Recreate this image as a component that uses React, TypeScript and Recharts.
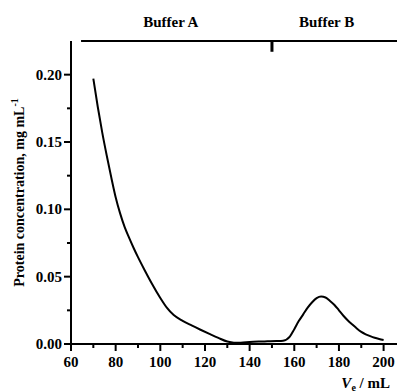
import { LineChart, Line, XAxis, YAxis, ReferenceLine, ReferenceDot } from "recharts";

// elution volume (mL) and protein concentration (mg/mL)
const volume = [
  70, 72, 74, 76, 78, 80, 82, 84, 86, 88, 90, 93, 96, 100, 103, 106, 110, 114, 118, 122, 126, 130, 133, 136, 140, 144,
  148, 152, 155, 158, 160, 162, 164, 166, 168, 170, 172, 174, 176, 178, 180, 182, 184, 186, 188, 190, 192, 194, 196,
  198, 200,
];
const concentration = [
  0.197, 0.176, 0.157, 0.14, 0.124, 0.109, 0.097, 0.087, 0.079, 0.0715, 0.0645, 0.0548, 0.0455, 0.0342, 0.0268,
  0.0215, 0.0172, 0.0138, 0.0106, 0.0075, 0.0045, 0.0018, 0.001, 0.001, 0.0015, 0.0018, 0.002, 0.0022, 0.0025, 0.0055,
  0.011, 0.017, 0.022, 0.027, 0.031, 0.034, 0.0352, 0.0345, 0.032, 0.029, 0.025, 0.021, 0.0175, 0.0145, 0.0115, 0.009,
  0.0072, 0.0058, 0.0046, 0.0037, 0.003,
];
const xTicks = [60, 70, 80, 90, 100, 110, 120, 130, 140, 150, 160, 170, 180, 190, 200];
const yTicks = [0, 0.025, 0.05, 0.075, 0.1, 0.125, 0.15, 0.175, 0.2];
const bufferLabels = [
  { name: "Buffer A", x: 104.7 },
  { name: "Buffer B", x: 174.5 },
];
const bufferSwitch = 150;

const data = volume.map((v, i) => ({ v, c: concentration[i] }));

const font = "'Liberation Serif', 'DejaVu Serif', Times, serif";
const textStyle = { fontFamily: font, fontWeight: 700 };

const XTick = ({ x, y, payload }: any) => {
  const major = payload.value % 20 === 0;
  return (
    <g>
      <line x1={x} x2={x} y1={y} y2={y + (major ? 7 : 4)} stroke="#000" strokeWidth={2} />
      {major && (
        <text x={x} y={y + 23} textAnchor="middle" style={textStyle} fontSize={15} fill="#000">
          {payload.value}
        </text>
      )}
    </g>
  );
};

const YTick = ({ x, y, payload }: any) => {
  const major = Math.round(payload.value * 1000) % 50 === 0;
  return (
    <g>
      <line x1={x - (major ? 7 : 4)} x2={x} y1={y} y2={y} stroke="#000" strokeWidth={2} />
      {major && (
        <text x={x - 9} y={y + 5} textAnchor="end" style={textStyle} fontSize={15} fill="#000">
          {payload.value.toFixed(2)}
        </text>
      )}
    </g>
  );
};

export default function App() {
  return (
    <div style={{ position: "absolute", left: 0, top: 0, fontFamily: font }}>
      <LineChart
        width={397}
        height={392}
        data={data}
        margin={{ top: 41, right: 0, bottom: 0, left: 0 }}
        style={{ fontFamily: font }}
      >
        <XAxis
          dataKey="v"
          type="number"
          domain={[60, 206]}
          ticks={xTicks}
          interval={0}
          tick={<XTick />}
          tickLine={false}
          tickSize={0}
          tickMargin={0}
          height={48}
          axisLine={{ stroke: "#000", strokeWidth: 2 }}
          label={{
            content: ({ viewBox }: any) => (
              <text
                x={viewBox.x + viewBox.width - 7}
                y={viewBox.y + 44}
                textAnchor="end"
                style={textStyle}
                fontSize={15}
                fill="#000"
              >
                <tspan fontStyle="italic">V</tspan>
                <tspan fontSize={10} dy={3}>e</tspan>
                <tspan dy={-3}>{"  / mL"}</tspan>
              </text>
            ),
          }}
        />
        <YAxis
          type="number"
          domain={[0, 0.225]}
          ticks={yTicks}
          interval={0}
          tick={<YTick />}
          tickLine={false}
          tickSize={0}
          tickMargin={0}
          width={71}
          axisLine={{ stroke: "#000", strokeWidth: 2 }}
          label={{
            content: ({ viewBox }: any) => {
              const cx = 24;
              const cy = viewBox.y + viewBox.height / 2;
              return (
                <text
                  x={cx}
                  y={cy}
                  transform={`rotate(-90 ${cx} ${cy})`}
                  textAnchor="middle"
                  style={textStyle}
                  fontSize={14}
                  fill="#000"
                >
                  Protein concentration, mg mL
                  <tspan fontSize={10} dy={-6}>-1</tspan>
                </text>
              );
            },
          }}
        />
        <ReferenceLine
          segment={[
            { x: 64.5, y: 0.225 },
            { x: 206, y: 0.225 },
          ]}
          stroke="#000"
          strokeWidth={2}
          ifOverflow="visible"
        />
        <ReferenceLine
          segment={[
            { x: bufferSwitch, y: 0.225 },
            { x: bufferSwitch, y: 0.217 },
          ]}
          stroke="#000"
          strokeWidth={3}
          ifOverflow="visible"
        />
        {bufferLabels.map((b) => (
          <ReferenceDot
            key={b.name}
            x={b.x}
            y={0.239}
            r={0}
            ifOverflow="visible"
            label={{
              value: b.name,
              position: "center",
              style: textStyle,
              fontSize: 15,
              fill: "#000",
            }}
          />
        ))}
        <Line dataKey="c" type="monotone" stroke="#000" strokeWidth={2} dot={false} isAnimationActive={false} />
      </LineChart>
    </div>
  );
}
